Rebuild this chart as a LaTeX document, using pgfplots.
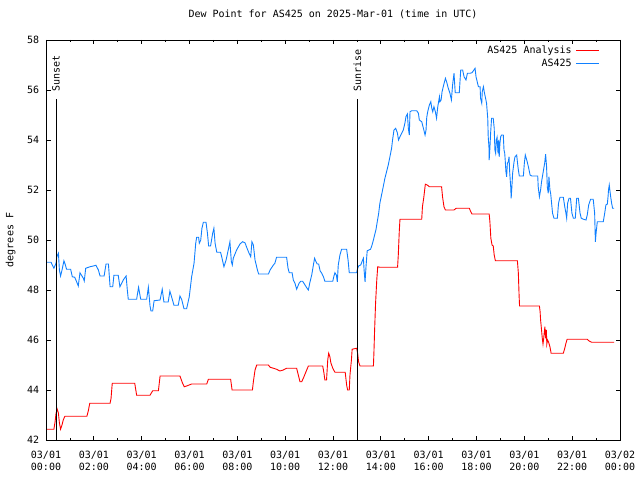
\documentclass[border=0pt]{standalone}
\usepackage{fontspec}
\setmainfont{DejaVu Sans Mono}
\usepackage{pgfplots}
\pgfplotsset{compat=1.18}
\definecolor{gred}{RGB}{255,0,0}
\definecolor{gblue}{RGB}{16,128,255}

\pgfplotstableread{
h v
0.05 42.43
0.33 42.43
0.38 42.73
0.42 43.07
0.47 43.23
0.52 43.07
0.56 42.69
0.61 42.43
0.67 42.6
0.72 42.8
0.79 42.95
1.71 42.95
1.77 43.17
1.83 43.47
2.68 43.47
2.72 43.67
2.77 44.27
3.71 44.27
3.76 43.97
3.79 43.79
4.35 43.79
4.46 43.97
4.70 43.97
4.77 44.56
5.60 44.56
5.71 44.27
5.78 44.13
5.88 44.16
6.09 44.24
6.72 44.24
6.79 44.43
7.72 44.43
7.78 44.0
8.63 44.0
8.67 44.33
8.74 44.8
8.81 45.0
9.30 45.0
9.37 44.91
9.51 44.87
9.64 44.83
9.78 44.76
9.92 44.8
10.06 44.87
10.48 44.87
10.55 44.6
10.62 44.33
10.69 44.33
10.76 44.47
10.87 44.73
10.97 44.96
11.57 44.96
11.62 44.69
11.66 44.4
11.73 44.4
11.78 45.2
11.82 45.47
11.87 45.33
11.91 45.09
11.99 44.87
12.08 44.71
12.51 44.71
12.57 44.2
12.61 44.0
12.68 44.0
12.71 44.6
12.77 45.2
12.80 45.63
12.99 45.67
13.03 45.47
13.07 45.13
13.13 44.96
13.69 44.96
13.71 45.47
13.74 46.4
13.78 47.47
13.83 48.4
13.87 48.93
13.96 48.91
14.70 48.91
14.73 49.4
14.77 50.33
14.80 50.83
15.71 50.83
15.74 51.33
15.80 51.73
15.86 52.23
15.94 52.2
16.03 52.13
16.54 52.13
16.58 51.73
16.64 51.33
16.70 51.2
17.06 51.2
17.15 51.27
17.70 51.27
17.76 51.13
17.81 51.04
18.53 51.04
18.56 50.73
18.60 50.07
18.65 49.8
18.70 49.76
18.74 49.4
18.79 49.17
19.71 49.17
19.75 48.67
19.78 47.8
19.80 47.36
20.63 47.36
20.66 47.13
20.68 46.8
20.72 46.4
20.75 46.07
20.78 45.84
20.81 46.07
20.83 46.27
20.86 46.53
20.89 46.07
20.92 46.4
20.94 45.84
20.97 46.0
21.01 45.93
21.07 45.73
21.12 45.47
21.63 45.47
21.69 45.67
21.74 45.87
21.79 46.03
22.63 46.03
22.71 45.96
22.81 45.91
23.75 45.91
}\analysis

\pgfplotstableread{
h v
0.05 49.11
0.21 49.11
0.33 48.87
0.42 49.07
0.45 49.33
0.52 49.47
0.56 48.8
0.61 48.56
0.67 48.8
0.75 49.17
0.81 49.0
0.86 48.83
1.03 48.83
1.10 48.53
1.20 48.51
1.28 48.33
1.35 48.16
1.42 48.69
1.56 48.47
1.60 48.36
1.66 48.87
1.84 48.93
1.98 48.96
2.09 48.99
2.19 48.8
2.26 48.56
2.43 48.56
2.51 49.04
2.61 49.04
2.68 48.13
2.79 48.13
2.84 48.59
3.02 48.59
3.09 48.13
3.23 48.4
3.35 48.56
3.40 48.0
3.44 47.63
3.79 47.63
3.87 48.11
3.96 47.63
4.21 47.63
4.28 48.11
4.35 47.36
4.39 47.16
4.46 47.16
4.52 47.57
4.77 47.6
4.86 48.03
4.93 47.52
5.11 47.52
5.18 47.95
5.25 47.73
5.35 47.39
5.53 47.39
5.60 47.76
5.67 47.63
5.77 47.25
5.88 47.25
5.99 47.73
6.09 48.53
6.19 49.07
6.26 49.87
6.30 50.11
6.38 50.11
6.41 49.87
6.47 50.0
6.52 50.47
6.58 50.71
6.69 50.71
6.75 50.27
6.80 49.76
6.88 49.76
6.97 50.27
7.02 50.47
7.07 49.87
7.14 49.51
7.30 49.51
7.36 49.27
7.44 48.93
7.53 49.2
7.62 49.6
7.69 49.93
7.75 49.13
7.79 49.0
7.83 49.27
7.97 49.6
8.11 49.84
8.22 49.93
8.32 49.89
8.39 49.71
8.49 49.47
8.56 49.33
8.61 49.93
8.67 49.8
8.74 49.2
8.84 48.8
8.89 48.64
9.30 48.64
9.37 48.8
9.51 49.0
9.57 49.07
9.64 49.31
10.06 49.31
10.12 48.87
10.17 48.69
10.29 48.69
10.34 48.4
10.41 48.27
10.48 48.03
10.58 48.27
10.65 48.35
10.73 48.35
10.83 48.2
10.90 48.09
10.97 48.0
11.04 48.33
11.11 48.6
11.18 49.0
11.23 49.27
11.29 49.13
11.34 49.04
11.40 49.04
11.46 48.77
11.53 48.67
11.60 48.53
11.66 48.35
11.99 48.35
12.04 48.56
12.08 48.69
12.14 48.6
12.18 48.33
12.22 49.0
12.29 49.4
12.36 49.63
12.57 49.63
12.63 49.2
12.68 48.69
12.99 48.69
13.02 48.83
13.07 48.96
13.16 49.0
13.21 49.13
13.27 49.27
13.30 48.8
13.34 48.33
13.38 48.93
13.43 49.57
13.57 49.63
13.62 49.76
13.69 50.0
13.74 50.2
13.80 50.43
13.85 50.73
13.91 51.07
13.96 51.47
14.03 51.8
14.10 52.13
14.17 52.47
14.24 52.73
14.31 53.0
14.38 53.33
14.45 53.67
14.49 54.0
14.55 54.4
14.62 54.47
14.69 54.29
14.74 54.0
14.80 54.13
14.87 54.27
14.94 54.4
15.01 54.69
15.05 54.93
15.11 55.04
15.15 54.47
15.19 54.2
15.22 55.13
15.29 55.17
15.50 55.17
15.57 55.07
15.61 54.8
15.71 54.73
15.78 54.47
15.85 54.2
15.89 54.4
15.92 54.91
15.96 55.13
16.03 55.4
16.09 55.53
16.13 55.27
16.17 55.13
16.22 55.33
16.28 55.13
16.33 54.87
16.38 55.33
16.45 55.73
16.47 55.53
16.52 55.6
16.56 55.93
16.61 56.13
16.70 56.47
16.75 56.33
16.82 56.07
16.89 55.87
16.95 55.6
17.00 56.2
17.06 56.67
17.11 55.89
17.28 55.89
17.34 56.8
17.42 56.8
17.48 56.53
17.56 56.4
17.62 56.67
17.73 56.67
17.81 56.69
17.87 56.77
17.94 56.87
17.98 56.53
18.03 56.33
18.08 56.13
18.15 56.13
18.17 55.67
18.22 55.47
18.24 55.93
18.29 56.13
18.33 55.89
18.38 55.67
18.42 55.47
18.47 54.87
18.49 54.13
18.52 53.73
18.53 53.2
18.56 53.67
18.59 54.27
18.63 54.87
18.70 54.87
18.74 54.47
18.77 53.6
18.80 53.47
18.83 54.0
18.86 54.11
18.90 53.47
18.93 54.0
18.95 53.33
18.98 53.87
19.01 54.13
19.05 54.2
19.12 54.2
19.15 53.6
19.18 53.47
19.20 53.2
19.23 52.73
19.26 52.53
19.29 53.07
19.33 53.13
19.36 53.33
19.39 52.67
19.43 52.13
19.45 51.67
19.48 52.13
19.51 52.67
19.57 53.13
19.61 53.33
19.68 53.4
19.71 53.13
19.75 52.8
19.79 52.56
19.96 52.56
20.00 53.07
20.04 53.4
20.10 53.2
20.17 52.93
20.24 52.6
20.31 52.56
20.56 52.56
20.58 52.13
20.63 51.73
20.68 52.0
20.72 52.33
20.79 52.73
20.85 53.07
20.89 53.43
20.93 52.93
20.96 52.13
21.00 51.87
21.03 52.53
21.07 52.0
21.10 51.87
21.14 51.47
21.18 51.07
21.24 50.87
21.38 50.87
21.43 51.47
21.49 51.71
21.63 51.71
21.69 51.33
21.74 51.07
21.77 50.87
21.81 51.47
21.87 51.67
21.93 51.67
21.99 51.07
22.05 50.87
22.13 50.87
22.19 51.67
22.26 51.67
22.33 51.07
22.38 50.87
22.47 50.83
22.58 50.8
22.63 51.0
22.69 51.4
22.77 51.63
22.88 51.63
22.94 51.07
22.97 49.93
23.00 50.27
23.05 50.73
23.30 50.73
23.36 51.07
23.41 51.4
23.47 51.44
23.50 51.73
23.52 52.0
23.55 52.2
23.61 51.73
23.65 51.47
23.69 51.27
23.75 51.27
}\station

\begin{document}
\begin{tikzpicture}[font=\fontsize{10}{12}\selectfont]
\path[use as bounding box] (0,0) rectangle (640pt,480pt);
\begin{axis}[
  at={(46pt,40pt)}, anchor=south west,
  width=574pt, height=400pt, scale only axis,
  xmin=0, xmax=24, ymin=42, ymax=58,
  xtick={0,2,...,24},
  minor xtick={1,3,...,23},
  ytick={42,44,...,58},
  xticklabels={{03/01\\00:00},{03/01\\02:00},{03/01\\04:00},{03/01\\06:00},{03/01\\08:00},{03/01\\10:00},{03/01\\12:00},{03/01\\14:00},{03/01\\16:00},{03/01\\18:00},{03/01\\20:00},{03/01\\22:00},{03/02\\00:00}},
  xticklabel style={align=center, inner sep=0pt, yshift=-10.5pt, font=\fontsize{10}{12.5}\selectfont},
  yticklabel style={anchor=east, inner sep=0pt, xshift=-6.7pt, /pgf/number format/assume math mode=true},
  tick align=inside,
  major tick length=4.5pt, minor tick length=2.5pt,
  tick style={black, line width=0.8pt},
  axis line style={line width=0.8pt},
  title={Dew Point for AS425 on 2025-Mar-01 (time in UTC)},
  title style={at={(0.5,1)}, anchor=south, inner sep=0pt, yshift=15pt},
  ylabel={degrees F},
  ylabel style={at={(axis description cs:-0.0618,0.5)}, anchor=center, inner sep=0pt},
  legend style={draw=none, fill=none, at={(1,1)}, anchor=north east, xshift=-20pt, yshift=-4pt,
    inner sep=0pt, row sep=0pt, legend cell align=right,
    nodes={inner sep=1.7pt, text height=7.5pt, text depth=2.2pt},
    /tikz/every odd column/.append style={column sep=2.5pt}},
  legend plot pos=right,
  legend image code/.code={\draw[#1] (0pt,0pt) -- (23pt,0pt);},
]
\addplot[gred, line width=0.9pt] table[x=h, y=v] {\analysis};
\addlegendentry{AS425 Analysis}
\addplot[gblue, line width=0.9pt] table[x=h, y=v] {\station};
\addlegendentry{AS425}
\addplot[black, line width=0.9pt, forget plot] coordinates {(0.42,42) (0.42,55.63)};
\addplot[black, line width=0.9pt, forget plot] coordinates {(13.02,42) (13.02,55.63)};
\node[rotate=90, anchor=west, inner sep=0pt] at (axis cs:0.42,55.93) {Sunset};
\node[rotate=90, anchor=west, inner sep=0pt] at (axis cs:13.02,55.93) {Sunrise};
\end{axis}
\end{tikzpicture}
\end{document}
